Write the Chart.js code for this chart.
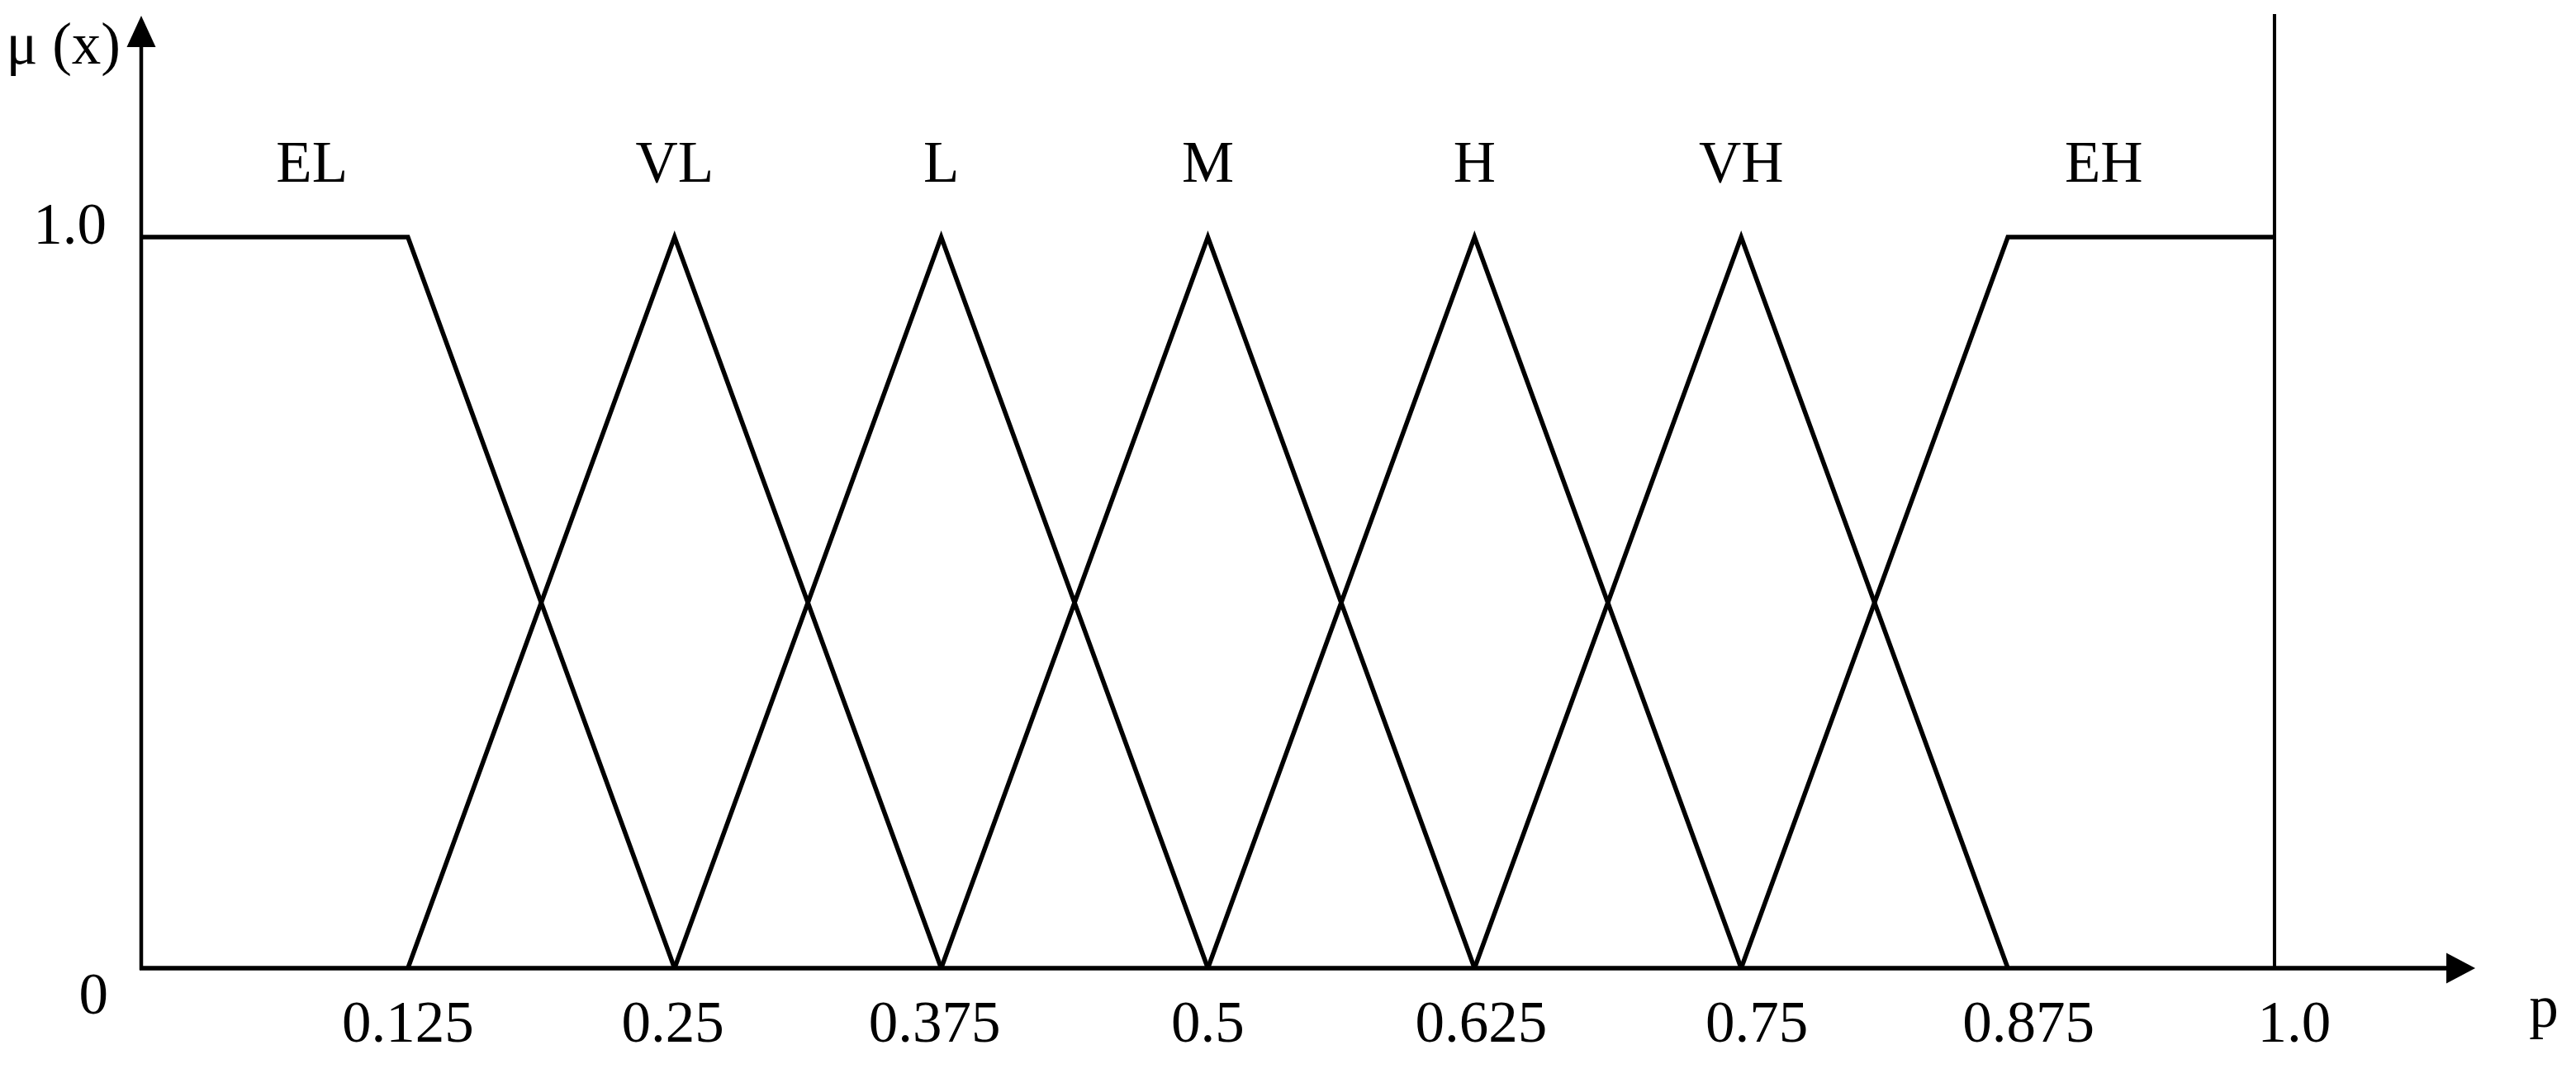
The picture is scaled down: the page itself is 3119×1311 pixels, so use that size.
<!DOCTYPE html>
<html>
<head>
<meta charset="utf-8">
<script src="https://cdn.jsdelivr.net/npm/chart.js@4/dist/chart.umd.min.js"></script>
<style>
  html, body { margin: 0; padding: 0; background: #ffffff; }
  #wrap { width: 3119px; height: 1311px; position: relative; }
</style>
</head>
<body>
<div id="wrap"><canvas id="c"></canvas></div>
<script>
// ---- Data (membership functions of the fuzzy sets on p) ----
const setNames = ['EL', 'VL', 'L', 'M', 'H', 'VH', 'EH'];
const xEL = [0, 0.125, 0.25];      const yEL = [1, 1, 0];
const xVL = [0.125, 0.25, 0.375];  const yVL = [0, 1, 0];
const xL  = [0.25, 0.375, 0.5];    const yL  = [0, 1, 0];
const xM  = [0.375, 0.5, 0.625];   const yM  = [0, 1, 0];
const xH  = [0.5, 0.625, 0.75];    const yH  = [0, 1, 0];
const xVH = [0.625, 0.75, 0.875];  const yVH = [0, 1, 0];
const xEH = [0.75, 0.875, 1.0];    const yEH = [0, 1, 1];
const setLabelX = [0.08, 0.25, 0.375, 0.5, 0.625, 0.75, 0.92];
const setLabelY = 1.076;

const xTickValues = [0.125, 0.25, 0.375, 0.5, 0.625, 0.75, 0.875, 1.0];
const xTickLabels = ['0.125', '0.25', '0.375', '0.5', '0.625', '0.75', '0.875', '1.0'];
const yTickValues = [0, 1];
const yTickLabels = ['0', '1.0'];
const boundaryX = [1.0, 1.0];
const boundaryY = [0, 1.305];
const xAxisTitle = 'p';
const yAxisTitle = 'μ (x)';

// ---- build datasets ----
const setXs = [xEL, xVL, xL, xM, xH, xVH, xEH];
const setYs = [yEL, yVL, yL, yM, yH, yVH, yEH];
const zip = (xs, ys) => xs.map((x, i) => ({ x: x, y: ys[i] }));

const datasets = setNames.map((name, i) => ({
  label: name,
  data: zip(setXs[i], setYs[i]),
  borderColor: '#000000',
  borderWidth: 5.5,
  pointRadius: 0,
  fill: false,
  tension: 0,
  clip: false,
  borderJoinStyle: 'miter'
}));
datasets.push({
  label: 'boundary',
  data: zip(boundaryX, boundaryY),
  borderColor: '#000000',
  borderWidth: 4,
  pointRadius: 0,
  fill: false,
  clip: false
});

const FONT = '71px "Liberation Serif", "Times New Roman", serif';

const axesPlugin = {
  id: 'fuzzyAxes',
  beforeDatasetsDraw(chart) {
    const ctx = chart.ctx;
    const xs = chart.scales.x, ys = chart.scales.y;
    const ca = chart.chartArea;
    const x0 = xs.getPixelForValue(0), y0 = ys.getPixelForValue(0);
    ctx.save();
    ctx.strokeStyle = '#000';
    ctx.fillStyle = '#000';
    // y axis line + arrow
    ctx.lineWidth = 4.5;
    ctx.beginPath();
    ctx.moveTo(x0, y0 + 2);
    ctx.lineTo(x0, ca.top + 36);
    ctx.stroke();
    ctx.beginPath();
    ctx.moveTo(x0, ca.top);
    ctx.lineTo(x0 - 17.5, ca.top + 38);
    ctx.lineTo(x0 + 17.5, ca.top + 38);
    ctx.closePath();
    ctx.fill();
    // x axis line + arrow
    ctx.lineWidth = 5.5;
    ctx.beginPath();
    ctx.moveTo(x0 - 2, y0);
    ctx.lineTo(ca.right - 33, y0);
    ctx.stroke();
    ctx.beginPath();
    ctx.moveTo(ca.right, y0);
    ctx.lineTo(ca.right - 35, y0 - 18.5);
    ctx.lineTo(ca.right - 35, y0 + 18.5);
    ctx.closePath();
    ctx.fill();
    ctx.restore();
  },
  afterDraw(chart, args, opts) {
    const ctx = chart.ctx;
    const xs = chart.scales.x, ys = chart.scales.y;
    const x0 = xs.getPixelForValue(0), y0 = ys.getPixelForValue(0);
    ctx.save();
    ctx.fillStyle = '#000';
    ctx.font = FONT;
    ctx.textBaseline = 'alphabetic';
    // x tick labels
    ctx.textAlign = 'center';
    xTickValues.forEach((v, i) => {
      ctx.fillText(xTickLabels[i], xs.getPixelForValue(v) + opts.xNudge[i], y0 + 89);
    });
    // y tick labels
    ctx.textAlign = 'right';
    ctx.fillText(yTickLabels[1], x0 - 42, ys.getPixelForValue(yTickValues[1]) + 8);
    ctx.fillText(yTickLabels[0], x0 - 40, ys.getPixelForValue(yTickValues[0]) + 55);
    // set labels
    ctx.textAlign = 'center';
    setNames.forEach((n, i) => {
      ctx.fillText(n, xs.getPixelForValue(setLabelX[i]), ys.getPixelForValue(setLabelY));
    });
    // axis titles
    ctx.textAlign = 'right';
    ctx.fillText(yAxisTitle, x0 - 25, 77);
    ctx.textAlign = 'center';
    ctx.fillText(xAxisTitle, chart.chartArea.right + 83, y0 + 71);
    ctx.restore();
  }
};

new Chart(document.getElementById('c'), {
  type: 'line',
  data: { datasets: datasets },
  options: {
    responsive: true,
    maintainAspectRatio: false,
    animation: false,
    devicePixelRatio: 1,
    layout: { padding: { left: 171, right: 122, top: 19, bottom: 139 } },
    plugins: {
      legend: { display: false },
      tooltip: { enabled: false },
      fuzzyAxes: { xNudge: [0, -2, -8, 0, 8, 19, 25, 24] }
    },
    scales: {
      x: { type: 'linear', min: 0, max: 1.0941, display: false },
      y: { type: 'linear', min: 0, max: 1.3028, display: false }
    }
  },
  plugins: [axesPlugin]
});
</script>
</body>
</html>
